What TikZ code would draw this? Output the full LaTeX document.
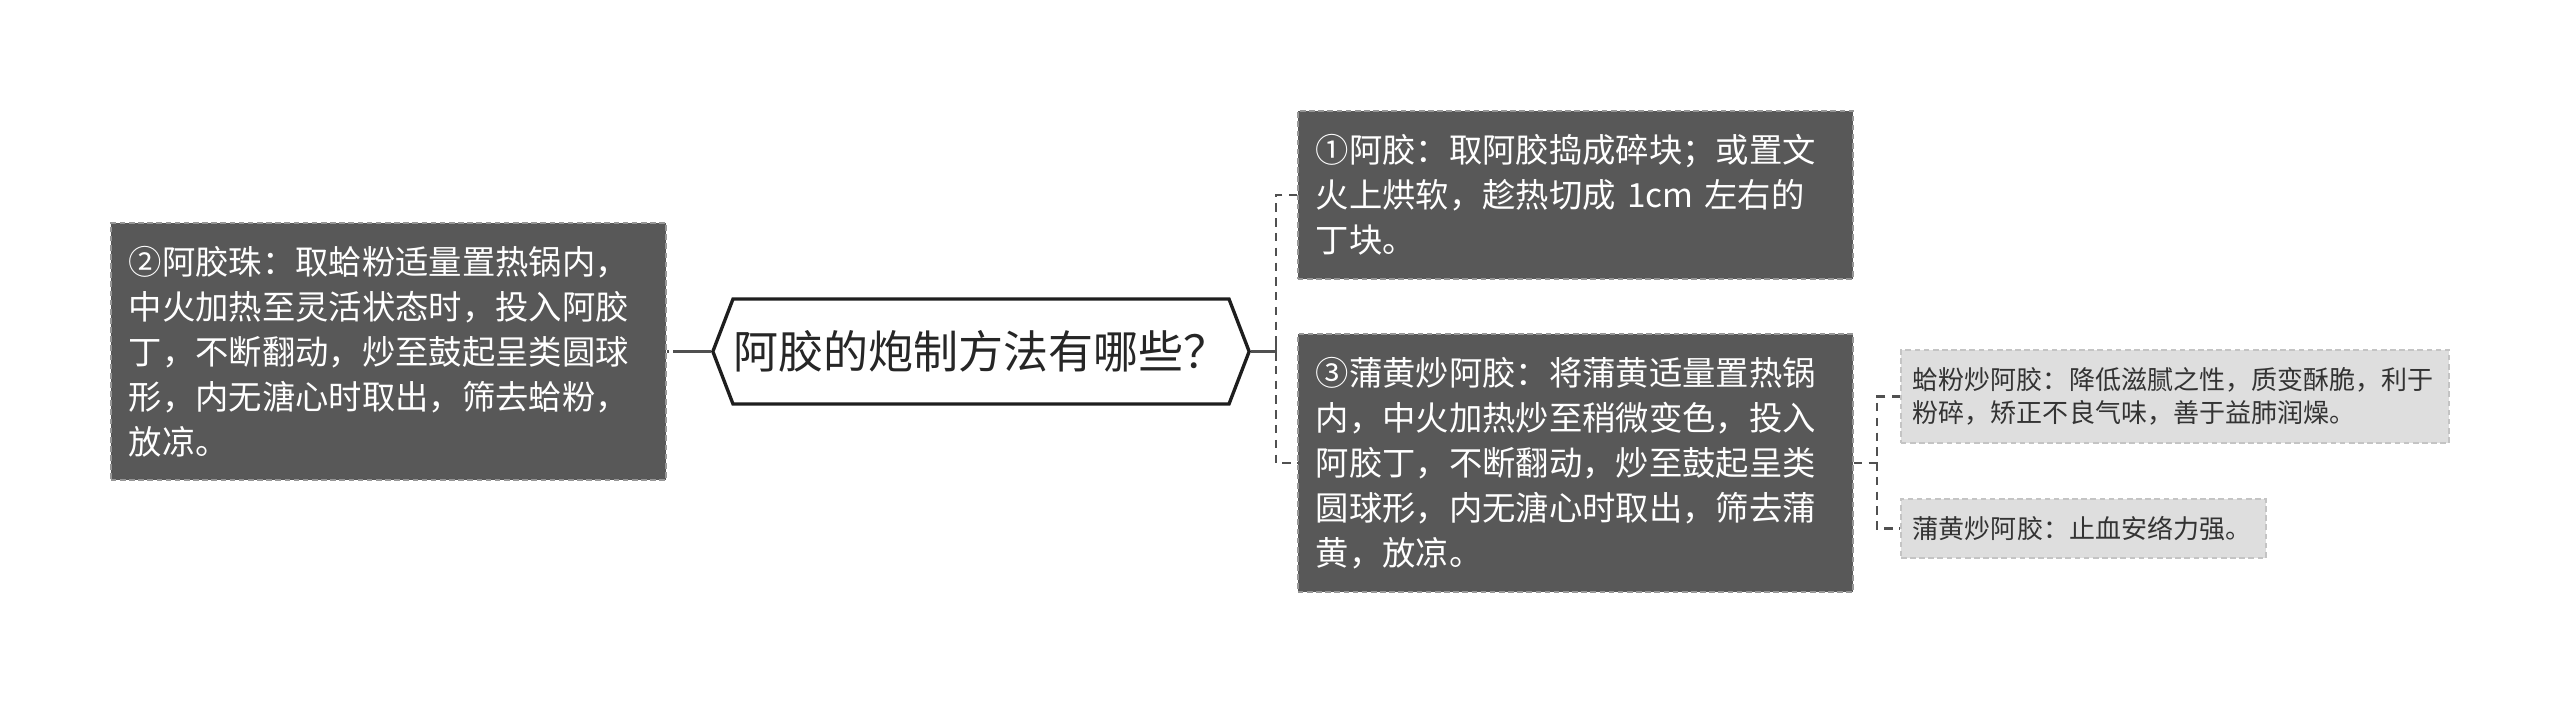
\documentclass[tikz,border=0pt]{standalone}
\usepackage{fontspec}
\setmainfont{Noto Sans CJK SC}
\usepackage{tikz}
\usetikzlibrary{shapes.symbols}

\definecolor{darkbox}{RGB}{88,88,88}
\definecolor{darkedge}{RGB}{150,150,150}
\definecolor{lightbox}{RGB}{222,222,222}
\definecolor{lightedge}{RGB}{196,196,196}
\definecolor{linkgray}{RGB}{80,80,80}
\definecolor{topicedge}{RGB}{30,30,30}

\begin{document}
\begin{tikzpicture}[x=0.01cm,y=-0.01cm]
  \tikzstyle{TopicStyle}=[shape=signal,signal to=east and west,signal pointer angle=138,
    draw=topicedge,line width=0.95pt,fill=white,text=black!85,
    minimum width=5.36cm,minimum height=1.05cm,inner sep=0pt,
    font=\fontsize{12.8}{15}\selectfont]
  \tikzstyle{MainStyle}=[draw=darkedge,line width=0.45pt,dash pattern=on 1.6pt off 1pt,
    fill=darkbox,text=white,align=left,text width=5.19cm,inner xsep=0.18cm,inner ysep=0pt,
    font=\fontsize{9.48}{12.8}\selectfont]
  \tikzstyle{SubStyle}=[draw=lightedge,line width=0.45pt,dash pattern=on 1.6pt off 1pt,
    fill=lightbox,text=black!80,align=left,inner xsep=0.12cm,inner ysep=0pt,
    font=\fontsize{7.4}{9.4}\selectfont]
  \tikzstyle{EdgeStyle}=[draw=linkgray,line width=0.75pt,dash pattern=on 2.4pt off 1.8pt]
  \tikzstyle{StubStyle}=[draw=linkgray,line width=0.75pt]
  \useasboundingbox (0,0) rectangle (2560,703);
  % central topic
  \node[TopicStyle] (A) at (981,351.5) {阿胶的炮制方法有哪些？};
  % main branches
  \node[MainStyle,minimum height=2.57cm] (B) at (388.5,351.5)
    {②阿胶珠：取蛤粉适量置热锅内，\\中火加热至灵活状态时，投入阿胶\\丁，不断翻动，炒至鼓起呈类圆球\\形，内无溏心时取出，筛去蛤粉，\\放凉。};
  \node[MainStyle,minimum height=1.68cm] (C) at (1575.5,195)
    {①阿胶：取阿胶捣成碎块；或置文\\火上烘软，趁热切成 1cm 左右的\\丁块。};
  \node[MainStyle,minimum height=2.58cm] (D) at (1575.5,463)
    {③蒲黄炒阿胶：将蒲黄适量置热锅\\内，中火加热炒至稍微变色，投入\\阿胶丁，不断翻动，炒至鼓起呈类\\圆球形，内无溏心时取出，筛去蒲\\黄，放凉。};
  % sub branches
  \node[SubStyle,text width=5.24cm,minimum height=0.93cm] (E) at (2175,396.5)
    {蛤粉炒阿胶：降低滋腻之性，质变酥脆，利于\\粉碎，矫正不良气味，善于益肺润燥。};
  \node[SubStyle,text width=3.41cm,minimum height=0.59cm] (F) at (2083.5,528.5)
    {蒲黄炒阿胶：止血安络力强。};
  % links
  \draw[StubStyle] (A.west) -- ++(-32,0) coordinate (AL);
  \draw[EdgeStyle,dash pattern=on 1.6pt off 1.4pt] (AL) -- (B.east);
  \draw[StubStyle] (A.east) -- ++(25,0) coordinate (AR);
  \draw[StubStyle] ([yshift=0.09cm]AR) -- ([yshift=-0.09cm]AR);
  \draw[EdgeStyle] (C.west) -| (AR) |- (D.west);
  \coordinate (DR) at (1877,463);
  \draw[EdgeStyle] (D.east) -- (DR);
  \draw[EdgeStyle] (E.west) -| (DR) |- (F.west);
\end{tikzpicture}
\end{document}
